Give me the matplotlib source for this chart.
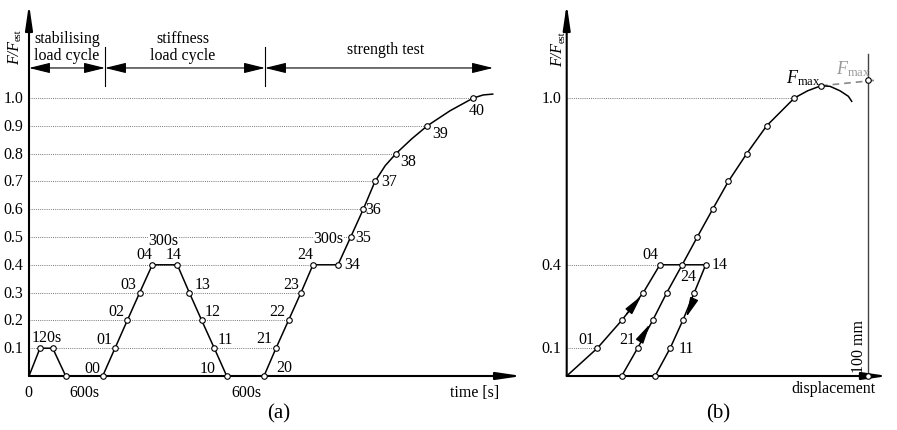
import matplotlib
matplotlib.use("Agg")
import matplotlib.pyplot as plt

plt.rcParams["font.family"] = ["Liberation Serif", "DejaVu Serif"]
plt.rcParams["mathtext.fontset"] = "custom"
plt.rcParams["mathtext.rm"] = "Liberation Serif"
plt.rcParams["mathtext.it"] = "Liberation Serif:italic"

# ---- (a) load history, time in schematic units (not to scale) ----
t_stab = [0, 11, 23.7, 36.7]
f_stab = [0, 0.1, 0.1, 0]

t_stiff = [73.7, 86, 98.3, 110.7, 123.3, 148.3, 160.3, 172.7, 185.3, 197.7]
f_stiff = [0, 0.1, 0.2, 0.3, 0.4, 0.4, 0.3, 0.2, 0.1, 0]
lab_stiff = ["00", "01", "02", "03", "04", "14", "13", "12", "11", "10"]

t_str = [235, 247, 259.5, 272, 284, 309, 321.7, 334.3, 346, 367, 398.3, 444.3]
f_str = [0, 0.1, 0.2, 0.3, 0.4, 0.4, 0.5, 0.6, 0.7, 0.8, 0.9, 1.0]
lab_str = ["20", "21", "22", "23", "24", "34", "35", "36", "37", "38", "39", "40"]

# full strength-test curve (marked points plus readings in between)
t_str_line = [235, 247, 259.5, 272, 284, 309, 321.7, 334.3, 346, 356.3, 367,
              382.7, 398.3, 421, 444.3, 454.3, 463.7]
f_str_line = [0, 0.1, 0.2, 0.3, 0.4, 0.4, 0.5, 0.6, 0.7, 0.757, 0.8,
              0.853, 0.9, 0.954, 1.0, 1.011, 1.014]

levels = [0.1, 0.2, 0.3, 0.4, 0.5, 0.6, 0.7, 0.8, 0.9, 1.0]
level_labels = ["0.1", "0.2", "0.3", "0.4", "0.5", "0.6", "0.7", "0.8", "0.9", "1.0"]
level_ends = [247, 259.5, 272, 284, 321.7, 334.3, 346, 367, 398.3, 444.3]

phase_bounds = [0, 76, 236, 464]
phase_names = ["stabilising\nload cycle", "stiffness\nload cycle", "strength test"]

# ---- (b) load-displacement, displacement in mm ----
d_first = [0, 10.15, 18.24, 25.4, 30.9]
f_first = [0, 0.1, 0.2, 0.3, 0.4]
d_unload = [46.1, 42.3, 38.5, 34.3, 29.3]
f_unload = [0.4, 0.3, 0.2, 0.1, 0]
d_reload = [18.24, 23.5, 28.5, 33.2, 38.3, 43.3, 48.4, 53.6, 59.7, 66.3, 75.5,
            79.9, 84.3, 87.3, 90.6, 93.4, 94.5]
f_reload = [0, 0.1, 0.2, 0.3, 0.4, 0.5, 0.6, 0.7, 0.8, 0.9, 1.0,
            1.026, 1.044, 1.042, 1.026, 1.006, 0.988]
i_fmax = 12
d_limit = 100
f_max_limit = 1.063

b_levels = [0.1, 0.4, 1.0]
b_level_labels = ["0.1", "0.4", "1.0"]
b_level_ends = [10.15, 30.9, 75.5]

PX = 0.72  # pixel -> point at 100 dpi
GRID = dict(color="#777777", lw=0.7, ls=(0, (1, 1.2)), zorder=1)
LINE = dict(color="black", lw=1.1, zorder=3)
MARK = dict(ls="none", marker="o", ms=4, mfc="white", mec="black", mew=0.8,
            zorder=6, clip_on=False)


def arrow(ax, start, end, lw, hl, hw, style="-|>", color="black", z=2):
    ax.annotate("", xy=end, xytext=start, annotation_clip=False, zorder=z,
                arrowprops=dict(arrowstyle=f"{style},head_length={hl},head_width={hw}",
                                lw=lw, color=color, shrinkA=0, shrinkB=0,
                                mutation_scale=1))


def tag(ax, x, y, text, dx, dy, **kw):
    ax.annotate(text, (x, y), xytext=(dx * PX, -(dy - 1.2) * PX),
                textcoords="offset points", ha="center", va="center",
                fontsize=11.5, annotation_clip=False, **kw)


def force_label(ax, x, y_bottom, x_sub, y_sub):
    # rotated F/F_est built from an italic part and a small subscript
    ax.text(x, y_bottom, "F/F", style="italic", rotation=90, ha="center",
            va="bottom", fontsize=11.5)
    ax.text(x_sub, y_sub, "est", rotation=90, ha="center", va="center", fontsize=7.5)


fig = plt.figure(figsize=(8.97, 4.31), dpi=100)
H = 377 / 278
ax_a = fig.add_axes([29 / 897, 54 / 431, 510 / 897, 377 / 431])
ax_a.set_xlim(0, 510)
ax_a.set_ylim(0, H)
ax_a.axis("off")

for lv, lab, te in zip(levels, level_labels, level_ends):
    ax_a.plot([0, te], [lv, lv], **GRID)
    ax_a.text(-5.5, lv, lab, ha="right", va="center", fontsize=11.5)

ax_a.plot(t_stab, f_stab, **LINE)
ax_a.plot(t_stab[1:], f_stab[1:], **MARK)
ax_a.plot(t_stiff, f_stiff, **LINE)
ax_a.plot(t_stiff, f_stiff, **MARK)
ax_a.plot(t_str_line, f_str_line, **LINE)
ax_a.plot(t_str, f_str, **MARK)

off_stiff = [(-10, -7), (-11, -7.5), (-10.7, -8), (-11, -7), (-7.6, -9.3),
             (-3.6, -9.3), (13, -7), (11, -8), (11.5, -7.5), (-19, -7)]
off_str = [(20.7, -7.7), (-12, -8.5), (-11, -8), (-10, -7), (-8, -9.3), (14, 0.7),
           (12, 1), (10, 1), (14.5, 1), (12, 9), (12.7, 8.8), (3.4, 13.4)]
for t, f, lab, (dx, dy) in zip(t_stiff, f_stiff, lab_stiff, off_stiff):
    tag(ax_a, t, f, lab, dx, dy)
for t, f, lab, (dx, dy) in zip(t_str, f_str, lab_str, off_str):
    tag(ax_a, t, f, lab, dx, dy)

white = dict(facecolor="white", edgecolor="none", pad=0.5)
ax_a.text(17.5, 0.139, "120s", ha="center", va="center", fontsize=11.5)
ax_a.text(134.3, 0.49, "300s", ha="center", va="center", fontsize=11.5, bbox=white, zorder=4)
ax_a.text(299.3, 0.496, "300s", ha="center", va="center", fontsize=11.5, bbox=white, zorder=4)
ax_a.text(-0.5, -0.058, "0", ha="center", va="center", fontsize=11.5)
ax_a.text(55.7, -0.058, "600s", ha="center", va="center", fontsize=11.5)
ax_a.text(217.7, -0.058, "600s", ha="center", va="center", fontsize=11.5)
ax_a.text(446, -0.056, "time [s]", ha="center", va="center", fontsize=11.5)
ax_a.text(249.3, -0.133, "(a)", ha="center", va="center", fontsize=15)
force_label(ax_a, -13.7, 1.122, -10.5, 1.230)

# axes with arrow heads
arrow(ax_a, (0, 0), (493, 0), 1.5, 15, 2.2)
arrow(ax_a, (0, 0), (0, 1.338), 1.5, 15, 2.2)

# phase brackets
y_br = 1.108
for x0, x1 in zip(phase_bounds[:-1], phase_bounds[1:]):
    arrow(ax_a, (x0, y_br), (x1, y_br), 0.8, 13, 3.2, style="<|-|>")
for xb in phase_bounds[1:3]:
    ax_a.plot([xb, xb], [1.043, 1.183], color="black", lw=0.8)
phase_x = [38, 154, 357]
phase_y = [1.185, 1.185, 1.176]
for x, y, name in zip(phase_x, phase_y, phase_names):
    ax_a.text(x, y, name, ha="center", va="center", fontsize=11.5, linespacing=1.1)

# ---- panel (b) ----
ax_b = fig.add_axes([566.7 / 897, 54 / 431, 330.3 / 897, 377 / 431])
ax_b.set_xlim(0, 330.3 / 3.016)
ax_b.set_ylim(0, H)
ax_b.axis("off")

for lv, lab, de in zip(b_levels, b_level_labels, b_level_ends):
    ax_b.plot([0, de], [lv, lv], **GRID)
    ax_b.text(-1.66, lv, lab, ha="right", va="center", fontsize=11.5)

ax_b.plot(d_first + [d_unload[0]], f_first + [f_unload[0]], **LINE)
ax_b.plot(d_unload, f_unload, **LINE)
ax_b.plot(d_reload, f_reload, **LINE)
ax_b.plot(d_first[1:], f_first[1:], **MARK)
ax_b.plot(d_unload, f_unload, **MARK)
ax_b.plot(d_reload[:11] + [d_reload[i_fmax]], f_reload[:11] + [f_reload[i_fmax]], **MARK)

# dashed projection of F_max onto the 100 mm line
ax_b.plot([d_reload[i_fmax], d_limit + 3.3], [f_reload[i_fmax], f_max_limit + 0.002],
          color="#888888", lw=1.2, ls=(0, (4, 3)), zorder=2)
ax_b.plot([d_limit, d_limit], [0, 1.158], color="#444444", lw=1.0, zorder=2)
ax_b.plot([d_limit, d_limit], [0, f_max_limit], **MARK)

# direction arrows on the loops
arrow(ax_b, (19.9, 0.223), (24.8, 0.289), 1.0, 12, 2.6, z=4)
arrow(ax_b, (24.3, 0.127), (27.6, 0.187), 1.0, 12, 2.6, z=4)
arrow(ax_b, (42.0, 0.271), (39.6, 0.211), 1.0, 12, 2.6, z=4)

tag(ax_b, d_first[1], f_first[1], "01", -11, -8.2)
tag(ax_b, d_reload[1], f_reload[1], "21", -10.2, -8.2)
tag(ax_b, d_unload[3], f_unload[3], "11", 15.8, 1)
tag(ax_b, d_first[4], f_first[4], "04", -9.2, -9.3)
tag(ax_b, d_reload[4], f_reload[4], "24", 6, 12.3)
tag(ax_b, d_unload[0], f_unload[0], "14", 13.5, 0.7)

ax_b.annotate(r"$F_{\mathrm{max}}$", (d_reload[i_fmax], f_reload[i_fmax]),
              xytext=(-17.5 * PX, 8.7 * PX), textcoords="offset points",
              ha="center", va="center", fontsize=13)
ax_b.text(94.9, 1.107, r"$F_{\mathrm{max}}$", ha="center", va="center", fontsize=13,
          color="#999999")
ax_b.text(96.9, 0.109, "100 mm", rotation=90, ha="center", va="center", fontsize=11.5)
ax_b.text(88.6, -0.043, "displacement", ha="center", va="center", fontsize=11.5)
ax_b.text(50.3, -0.133, "(b)", ha="center", va="center", fontsize=15)
force_label(ax_b, -2.9, 1.116, -1.6, 1.223)

arrow(ax_b, (0, 0), (106.5, 0), 1.5, 15, 2.2)
arrow(ax_b, (0, 0), (0, 1.338), 1.5, 15, 2.2)

fig.savefig("out.png", dpi=100)
